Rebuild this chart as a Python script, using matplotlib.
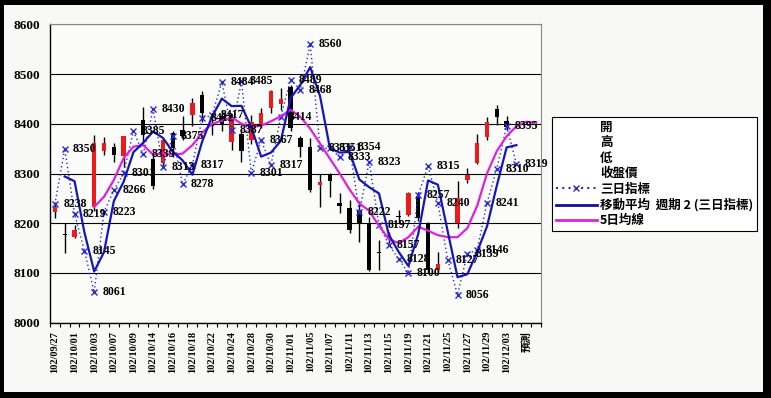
import numpy as np
import pandas as pd
import matplotlib
matplotlib.use('Agg')
import matplotlib.pyplot as plt
from matplotlib.lines import Line2D
from matplotlib.patches import Rectangle

plt.rcParams['font.family'] = ['Liberation Serif', 'Noto Sans CJK TC', 'DejaVu Sans']

nan = np.nan

# 日期 (每兩個顯示一次)
dates = ['102/09/27', '102/09/30', '102/10/01', '102/10/02', '102/10/03', '102/10/04',
         '102/10/07', '102/10/08', '102/10/09', '102/10/11', '102/10/14', '102/10/15',
         '102/10/16', '102/10/17', '102/10/18', '102/10/21', '102/10/22', '102/10/23',
         '102/10/24', '102/10/25', '102/10/28', '102/10/29', '102/10/30', '102/10/31',
         '102/11/01', '102/11/04', '102/11/05', '102/11/06', '102/11/07', '102/11/08',
         '102/11/11', '102/11/12', '102/11/13', '102/11/14', '102/11/15', '102/11/18',
         '102/11/19', '102/11/20', '102/11/21', '102/11/22', '102/11/25', '102/11/26',
         '102/11/27', '102/11/28', '102/11/29', '102/12/02', '102/12/03', '102/12/04',
         '預測', '']

# 開 高 低 收
opens = [8223, 8178, 8173, nan, 8233, 8346, 8354, 8336, nan, 8407,
         8330, 8321, 8381, 8388, 8418, 8458, 8400, 8415, 8364, 8380,
         8367, 8400, 8431, 8439, 8473, 8371, 8354, 8276, 8297, 8240,
         8230, 8227, 8200, 8140, 8168, 8215, 8217, 8255, 8200, 8106,
         nan, 8200, 8286, 8321, 8374, 8430, 8405]
highs = [8243, 8200, 8196, nan, 8377, 8374, 8361, 8376, nan, 8434,
         8338, 8372, 8385, 8416, 8451, 8466, 8418, 8428, 8418, 8390,
         8418, 8431, 8467, 8471, 8478, 8376, 8371, 8300, 8301, 8260,
         8247, 8245, 8213, 8166, 8183, 8227, 8262, 8263, 8203, 8143,
         nan, 8285, 8311, 8379, 8414, 8438, 8415]
lows = [8210, 8140, 8170, nan, 8225, 8337, 8324, 8314, nan, 8361,
        8268, 8315, 8334, 8367, 8395, 8404, 8377, 8385, 8347, 8324,
        8360, 8392, 8421, 8428, 8385, 8334, 8263, 8233, 8253, 8220,
        8180, 8163, 8104, 8106, 8160, 8200, 8215, 8205, 8100, 8103,
        nan, 8190, 8280, 8320, 8368, 8397, 8388]
closes = [8233, 8176, 8186, nan, 8361, 8362, 8337, 8375, nan, 8377,
          8275, 8367, 8351, 8375, 8441, 8421, 8396, 8398, 8411, 8345,
          8404, 8421, 8465, 8450, 8391, 8354, 8267, 8283, 8284, 8234,
          8186, 8198, 8106, 8139, 8176, 8212, 8260, 8210, 8105, 8118,
          nan, 8250, 8296, 8361, 8404, 8413, 8393]

# 三日指標
sanri = [8238, 8350, 8219, 8145, 8061, 8223, 8266, 8301, 8385, 8339,
         8430, 8313, 8375, 8278, 8317, 8412, 8417, 8484, 8387, 8485,
         8301, 8367, 8317, 8414, 8489, 8468, 8560, 8351, 8351, 8333,
         8354, 8222, 8323, 8197, 8157, 8128, 8100, 8257, 8315, 8240,
         8127, 8056, 8139, 8146, 8241, 8310, 8395, 8319]

# 5日均線
ma5 = [nan, nan, nan, nan, 8233, 8253, 8287, 8331, 8354, 8357,
       8338, 8340, 8338, 8340, 8357, 8382, 8400, 8406, 8413, 8400,
       8394, 8396, 8405, 8415, 8428, 8414, 8390, 8360, 8330, 8300,
       8268, 8240, 8225, 8195, 8168, 8160, 8172, 8193, 8185, 8176,
       8172, 8172, 8190, 8235, 8300, 8345, 8375, 8395, 8404, 8402]

W, H = 771, 398
fig = plt.figure(figsize=(W / 100, H / 100), dpi=100, facecolor='black')
fig.patches.append(Rectangle((4 / W, 1 - 392 / H), 759 / W, 387 / H,
                             transform=fig.transFigure, facecolor='#f8f8f6',
                             edgecolor='none', zorder=-10))
ax = fig.add_axes([50 / W, 1 - 322.7 / H, 491 / W, 298.4 / H])
ax.set_facecolor('#fbfbfa')

# K線
x = np.arange(len(opens))
o = np.array(opens)
c = np.array(closes)
up = c >= o
cols = np.where(up, '#ee1a1a', '#000000')
ax.vlines(x, lows, highs, color='black', linewidth=1, zorder=2)
body = np.where(np.abs(c - o) < 2, 2, c - o)
ax.bar(x, body, bottom=o, width=0.45, color=cols, edgecolor='none', zorder=2.5)

# 三日指標
xs = np.arange(len(sanri))
ax.plot(xs, sanri, linestyle=(0, (1, 2)), color='#2a2ad8', linewidth=1, marker='x',
        markersize=5, markeredgewidth=1, zorder=3)
for i, v in enumerate(sanri):
    ax.annotate(str(v), (i, v), xytext=(6, 0), textcoords='offset points',
                ha='left', va='center', fontsize=8.5, fontweight='bold',
                color='black', zorder=6)

# 移動平均 週期2
ma2 = pd.Series(sanri).rolling(2).mean()
ax.plot(xs, ma2, color='#1515c0', linewidth=1.6, zorder=4)

# 5日均線
ax.plot(np.arange(len(ma5)), ma5, color='#e020e0', linewidth=1.6,
        solid_joinstyle='round', zorder=3.5)

ax.set_xlim(-0.5, len(dates) - 0.5)
ax.set_ylim(8000, 8600)
ax.set_yticks(np.arange(8000, 8601, 100))
ax.set_yticklabels([str(v) for v in range(8000, 8601, 100)], fontsize=9.5, fontweight='bold')
ax.tick_params(axis='y', length=0, pad=7)
ax.set_xticks(np.arange(0, len(dates), 2))
ax.set_xticklabels(dates[::2], rotation=90, fontsize=7.5, fontweight='bold')
ax.set_xticks(np.arange(len(dates) + 1) - 0.5, minor=True)
ax.tick_params(axis='x', which='major', length=0, pad=6)
ax.tick_params(axis='x', which='minor', length=3, width=0.8)
ax.grid(axis='y', color='black', linewidth=0.8)
ax.set_axisbelow(True)
for s in ['top', 'right']:
    ax.spines[s].set_color('#888888')
    ax.spines[s].set_linewidth(0.8)
for s in ['left', 'bottom']:
    ax.spines[s].set_color('black')
    ax.spines[s].set_linewidth(1)

handles = [Line2D([], [], linestyle='none') for _ in range(4)]
handles += [Line2D([], [], linestyle=(0, (1, 2)), color='#2a2ad8', marker='x', markersize=5),
            Line2D([], [], color='#101090', linewidth=2),
            Line2D([], [], color='#e020e0', linewidth=2)]
labels = ['開', '高', '低', '收盤價', '三日指標', '移動平均  週期 2 (三日指標)', '5日均線']
leg = fig.legend(handles, labels, loc='upper left', bbox_to_anchor=(552 / W, 1 - 117 / H),
                 bbox_transform=fig.transFigure, borderaxespad=0, fancybox=False,
                 frameon=True, edgecolor='black', facecolor='white', framealpha=1,
                 prop={'family': ['Noto Sans CJK TC'], 'size': 9, 'weight': 'bold'},
                 handlelength=3.3, handletextpad=0.25, labelspacing=0.2, borderpad=0.3)
leg.get_frame().set_linewidth(0.8)

fig.savefig('out.png', dpi=100, facecolor=fig.get_facecolor())
